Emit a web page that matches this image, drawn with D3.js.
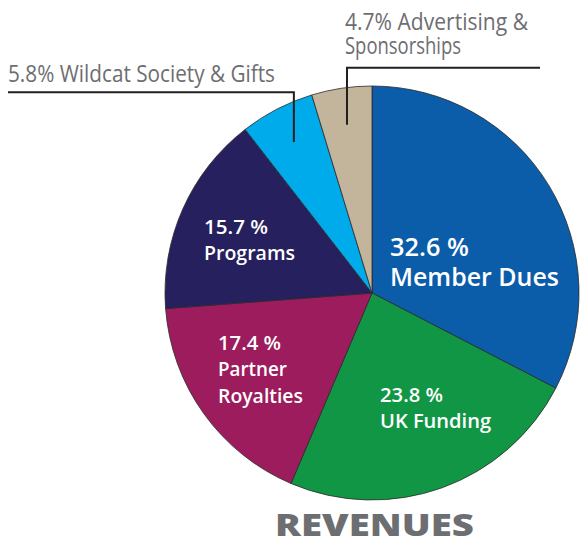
<!DOCTYPE html>
<html>
<head>
<meta charset="utf-8">
<script src="https://cdn.jsdelivr.net/npm/d3@7"></script>
<style>
  html, body { margin: 0; padding: 0; background: #ffffff; }
  svg { display: block; }
  text { font-family: "Open Sans", "Noto Sans", sans-serif; }
</style>
</head>
<body>
<svg id="chart" width="580" height="545"></svg>
<script>
// ---- data ----
const categories = ["Member Dues", "UK Funding", "Partner Royalties", "Programs", "Wildcat Society & Gifts", "Advertising & Sponsorships"];
const values = [32.6, 23.8, 17.4, 15.7, 5.8, 4.7];
const labelLines = [
  ["32.6 %", "Member Dues"],
  ["23.8 %", "UK Funding"],
  ["17.4 %", "Partner", "Royalties"],
  ["15.7 %", "Programs"],
  ["5.8% Wildcat Society & Gifts"],
  ["4.7% Advertising &", "Sponsorships"]
];
const colors = ["#0b5ca9", "#119646", "#9c1c5d", "#26205e", "#00abeb", "#c3b59b"];
const title = "REVENUES";

// ---- layout ----
const cx = 372, cy = 293, R = 207;
const svg = d3.select("#chart");
const g = svg.append("g").attr("transform", `translate(${cx},${cy})`);

const pie = d3.pie().value(d => d).sort(null).startAngle(0).endAngle(2 * Math.PI);
const arcs = pie(values);
const arc = d3.arc().innerRadius(0).outerRadius(R);

g.selectAll("path.slice")
  .data(arcs)
  .join("path")
  .attr("class", "slice")
  .attr("d", arc)
  .attr("fill", (d, i) => colors[i])
  .attr("stroke", "#2a2a2a")
  .attr("stroke-width", 0.8)
  .attr("stroke-linejoin", "round");

// inside labels: offsets from pie centre (layout only)
const inside = {
  0: { x: 18, y: -37.5, lh: 30.5, size: 25, weight: 600, widths: [79, 169] },
  1: { x: 8, y: 108.5, lh: 26, size: 20, weight: 600, widths: [63, 111] },
  2: { x: -154, y: 57, lh: 26.3, size: 20, weight: 600, widths: [63, 69, 85] },
  3: { x: -168, y: -59, lh: 26, size: 20, weight: 600, widths: [64, 91] }
};

Object.entries(inside).forEach(([k, L]) => {
  const i = +k;
  const t = g.append("text")
    .attr("fill", "#ffffff")
    .attr("font-size", L.size)
    .attr("font-weight", L.weight);
  labelLines[i].forEach((line, j) => {
    t.append("tspan")
      .attr("x", L.x)
      .attr("y", L.y + j * L.lh)
      .attr("textLength", L.widths[j])
      .attr("lengthAdjust", "spacingAndGlyphs")
      .text(line);
  });
});

// outside labels with leader lines
const leaderArc = d3.arc().innerRadius(170).outerRadius(170);
const outside = {
  4: { textX: 8, baseY: 82, lh: 24, lineY: 92.3, lineX0: 8, widths: [267] },
  5: { textX: 345, baseY: 29.5, lh: 24, lineY: 67.7, lineX1: 540, widths: [183, 116] }
};

Object.entries(outside).forEach(([k, L]) => {
  const i = +k;
  const a = arcs[i];
  const mid = (a.startAngle + a.endAngle) / 2;
  const [px, py] = leaderArc.centroid({ startAngle: mid, endAngle: mid });
  const ax = cx + px, ay = cy + py;
  let pts;
  if (L.lineX0 !== undefined) {
    pts = [[L.lineX0, L.lineY], [ax, L.lineY], [ax, ay]];
  } else {
    pts = [[ax, ay], [ax, L.lineY], [L.lineX1, L.lineY]];
  }
  svg.append("path")
    .attr("d", d3.line()(pts))
    .attr("fill", "none")
    .attr("stroke", "#231f20")
    .attr("stroke-width", 2);

  const t = svg.append("text")
    .attr("fill", "#6d6e71")
    .attr("font-size", 23)
    .attr("font-weight", 400);
  labelLines[i].forEach((line, j) => {
    t.append("tspan")
      .attr("x", L.textX)
      .attr("y", L.baseY + j * L.lh)
      .attr("textLength", L.widths[j])
      .attr("lengthAdjust", "spacingAndGlyphs")
      .text(line);
  });
});

// title
svg.append("text")
  .attr("x", 275)
  .attr("y", 536)
  .attr("fill", "#6d6e71")
  .attr("font-size", 30)
  .attr("font-weight", 800)
  .attr("textLength", 199)
  .attr("lengthAdjust", "spacingAndGlyphs")
  .text(title);
</script>
</body>
</html>
